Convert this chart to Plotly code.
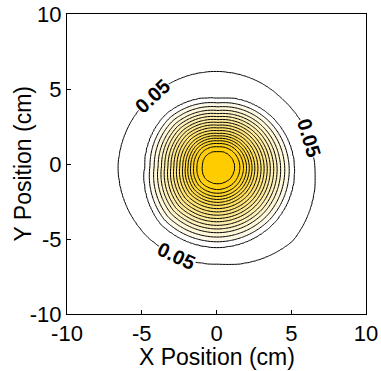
import numpy as np
import plotly.graph_objects as go

# Grid coordinates (cm)
x_vals = np.linspace(-10, 10, 201)
y_vals = np.linspace(-10, 10, 201)

# Peak centre (cm)
center_x = 0.1
center_y = -0.15

# Radii (cm, from the centre) of the 0.10 and 0.05 contours, read at these directions
angles_deg = [0, 45, 90, 135, 180, 225, 270, 315]
radius_010 = [5.1, 4.85, 4.53, 4.9, 4.88, 5.43, 5.4, 5.32]
radius_005 = [6.45, 6.2, 6.3, 6.42, 6.67, 6.65, 6.5, 7.05]

# Inner contour levels and their radius as a fraction of the 0.10-contour radius
inner_levels = [1.0, 0.95, 0.90, 0.85, 0.80, 0.75, 0.70, 0.65, 0.60, 0.55,
                0.50, 0.45, 0.40, 0.35, 0.30, 0.25, 0.20, 0.15, 0.10]
inner_fracs = [0.0, 0.22, 0.288, 0.334, 0.374, 0.41, 0.446, 0.482, 0.523, 0.564,
               0.604, 0.645, 0.685, 0.73, 0.774, 0.82, 0.874, 0.932, 1.0]

# Labelled contour and the directions (deg, from centre) where its labels sit
labelled_level = 0.05
label_text = "0.05"
label_dirs_deg = [133, 17, 245]

tick_vals = [-10, -5, 0, 5, 10]
tick_text = ["-10", "-5", "0", "5", "10"]
x_title = "X Position (cm)"
y_title = "Y Position (cm)"

# ---- build the intensity field from the read contour positions ----
X, Y = np.meshgrid(x_vals, y_vals)
dx = X - center_x
dy = Y - center_y
r = np.hypot(dx, dy)
theta = np.degrees(np.arctan2(dy, dx)) % 360
r010 = np.interp(theta, angles_deg, radius_010, period=360)
r005 = np.interp(theta, angles_deg, radius_005, period=360)

z = np.zeros_like(r)
inside = r <= r010
z[inside] = np.interp(r[inside] / r010[inside], inner_fracs, inner_levels)
mid = (~inside) & (r <= r005)
z[mid] = 0.10 - 0.05 * (r[mid] - r010[mid]) / (r005[mid] - r010[mid])
out = r > r005
z[out] = np.clip(0.05 * (1 - (r[out] - r005[out]) / (0.6 * r005[out])), 0, None)

font_family = "Arial, Liberation Sans, sans-serif"

fig = go.Figure()
fig.add_trace(go.Contour(
    x=x_vals, y=y_vals, z=z,
    autocontour=False,
    contours=dict(start=0.10, end=0.95, size=0.05, coloring="fill", showlines=True),
    line=dict(color="black", width=1),
    colorscale=[[0, "#ffffff"], [0.1, "#ffffff"], [0.1001, "#fffbea"], [1, "#ffcc00"]],
    zmin=0, zmax=1,
    showscale=False, hoverinfo="skip",
))
fig.add_trace(go.Contour(
    x=x_vals, y=y_vals, z=z,
    autocontour=False,
    contours=dict(start=labelled_level, end=labelled_level, size=1, coloring="none",
                  showlabels=False),
    line=dict(color="black", width=1),
    showscale=False, hoverinfo="skip",
))

# Labels on the 0.05 contour, placed on the contour and aligned with its tangent
for d in label_dirs_deg:
    rr = float(np.interp(d, angles_deg, radius_005, period=360))
    lx = center_x + rr * np.cos(np.radians(d))
    ly = center_y + rr * np.sin(np.radians(d))
    tang = (d + 90) % 180  # tangent direction, degrees counter-clockwise
    if tang > 90:
        tang -= 180
    fig.add_annotation(
        x=lx, y=ly, xref="x", yref="y", text=label_text, showarrow=False,
        textangle=-tang, bgcolor="white", borderpad=0,
        font=dict(size=20, color="black", family=font_family, weight="bold"),
    )

# Axis titles
title_font = dict(size=23, color="black", family=font_family)
fig.add_annotation(text=x_title, x=0.5, y=0, xref="paper", yref="paper",
                   xanchor="center", yanchor="middle", yshift=-43,
                   showarrow=False, font=title_font)
fig.add_annotation(text=y_title, x=0, y=0.5, xref="paper", yref="paper",
                   xanchor="center", yanchor="middle", xshift=-44.5, textangle=-90,
                   showarrow=False, font=title_font)

axis_common = dict(
    range=[-10, 10], tickvals=tick_vals, ticktext=tick_text,
    ticks="inside", ticklen=4, tickcolor="black",
    showline=True, linecolor="black", linewidth=1, mirror=True,
    showgrid=False, zeroline=False, automargin=False,
    tickfont=dict(size=22, color="black", family=font_family),
)
fig.update_layout(
    width=381, height=371,
    margin=dict(l=67, r=15, t=14, b=57),
    paper_bgcolor="white", plot_bgcolor="white",
    xaxis=dict(**axis_common, ticklabelstandoff=0),
    yaxis=dict(**axis_common),
    showlegend=False,
)
fig.write_html("out.html")
